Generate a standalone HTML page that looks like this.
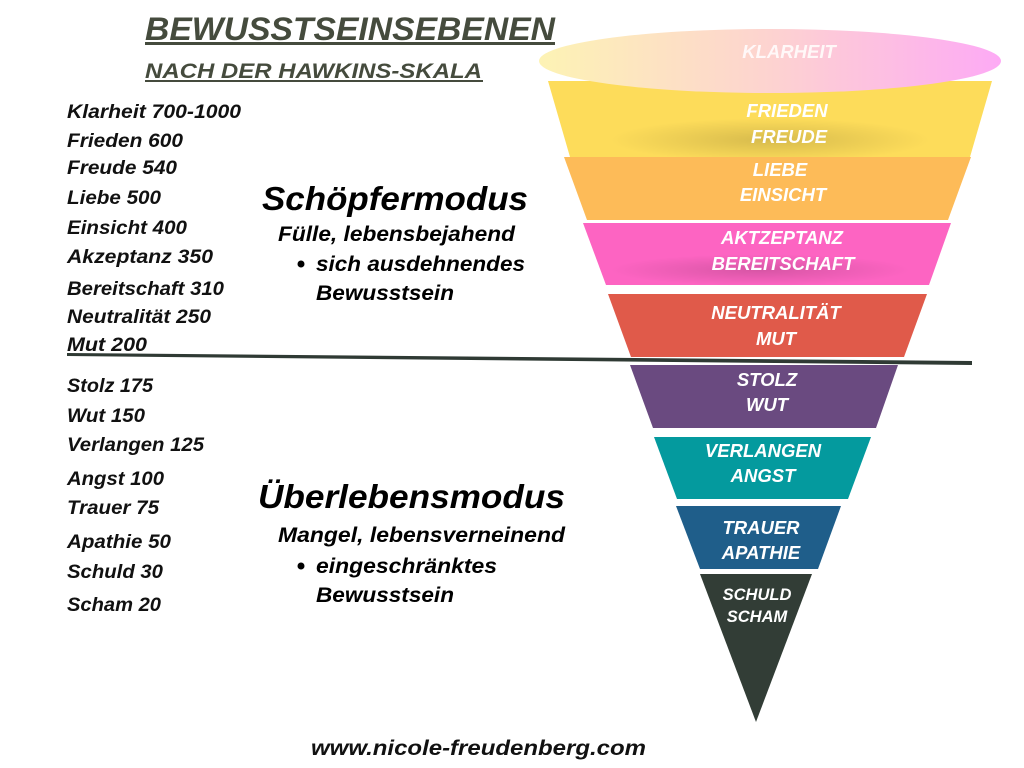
<!DOCTYPE html>
<html><head><meta charset="utf-8"><style>
html,body{margin:0;padding:0;background:#fff}
svg{display:block}
text{font-family:"Liberation Sans",sans-serif;font-weight:bold;font-style:italic}
.l{font-size:19.5px;fill:#111}
.w{font-size:18.5px;fill:#fff;text-anchor:middle}
</style></head><body>
<svg width="1024" height="768" viewBox="0 0 1024 768">
<defs>
<linearGradient id="g1" x1="0" x2="1"><stop offset="0" stop-color="#fdf3b4"/><stop offset="0.5" stop-color="#fdd3d0"/><stop offset="1" stop-color="#fdaaf5"/></linearGradient>
<radialGradient id="sh" cx="0.5" cy="0.5" r="0.5"><stop offset="0" stop-color="#000" stop-opacity="0.15"/><stop offset="1" stop-color="#000" stop-opacity="0"/></radialGradient>
</defs>
<text x="145" y="40" textLength="410" lengthAdjust="spacingAndGlyphs" style="font-size:32px;fill:#454b3d">BEWUSSTSEINSEBENEN</text>
<rect x="145" y="42" width="410" height="3" fill="#454b3d"/>
<text x="145" y="78" textLength="337" lengthAdjust="spacingAndGlyphs" style="font-size:21px;fill:#454b3d">NACH DER HAWKINS-SKALA</text>
<rect x="145" y="80" width="338" height="2" fill="#454b3d"/>

<polygon points="548,81 992,81 970,157 570,157" fill="#fddc5a"/>
<ellipse cx="770" cy="140" rx="160" ry="22" fill="url(#sh)"/>
<ellipse cx="770" cy="61" rx="231" ry="32" fill="url(#g1)"/>
<polygon points="564,157 971,157 948,220 587,220" fill="#fdbb58"/>
<polygon points="583,223 951,223 929,285 606,285" fill="#fd64c2"/>
<ellipse cx="760" cy="270" rx="150" ry="16" fill="url(#sh)"/>
<polygon points="608,294 927,294 904,357 631,357" fill="#e05a4a"/>
<polygon points="630,365 898,365 876,428 653,428" fill="#6a4a80"/>
<polygon points="654,437 871,437 848,499 677,499" fill="#049a9e"/>
<polygon points="676,506 841,506 818,569 700,569" fill="#1f5e8a"/>
<polygon points="700,574 812,574 756,722" fill="#323d36"/>
<polygon points="67,353 972,361 972,365 67,356" fill="#2f3a34"/>

<text class="w" x="789" y="58" style="fill:#fff8f8">KLARHEIT</text>
<text class="w" x="787" y="117">FRIEDEN</text>
<text class="w" x="789" y="143">FREUDE</text>
<text class="w" x="780" y="176">LIEBE</text>
<text class="w" x="783" y="201">EINSICHT</text>
<text class="w" x="782" y="244">AKTZEPTANZ</text>
<text class="w" x="783" y="270">BEREITSCHAFT</text>
<text class="w" x="776" y="319">NEUTRALITÄT</text>
<text class="w" x="776" y="345">MUT</text>
<text class="w" x="767" y="386">STOLZ</text>
<text class="w" x="767" y="411">WUT</text>
<text class="w" x="763" y="457">VERLANGEN</text>
<text class="w" x="763" y="482">ANGST</text>
<text class="w" x="761" y="534">TRAUER</text>
<text class="w" x="761" y="559">APATHIE</text>
<text class="w" x="757" y="600" style="font-size:16.5px">SCHULD</text>
<text class="w" x="757" y="622" style="font-size:16.5px">SCHAM</text>

<text class="l" x="67" y="118" textLength="174" lengthAdjust="spacingAndGlyphs">Klarheit 700-1000</text>
<text class="l" x="67" y="147" textLength="116" lengthAdjust="spacingAndGlyphs">Frieden 600</text>
<text class="l" x="67" y="174" textLength="110" lengthAdjust="spacingAndGlyphs">Freude 540</text>
<text class="l" x="67" y="204" textLength="94" lengthAdjust="spacingAndGlyphs">Liebe 500</text>
<text class="l" x="67" y="234" textLength="120" lengthAdjust="spacingAndGlyphs">Einsicht 400</text>
<text class="l" x="67" y="263" textLength="146" lengthAdjust="spacingAndGlyphs">Akzeptanz 350</text>
<text class="l" x="67" y="295" textLength="157" lengthAdjust="spacingAndGlyphs">Bereitschaft 310</text>
<text class="l" x="67" y="323" textLength="144" lengthAdjust="spacingAndGlyphs">Neutralität 250</text>
<text class="l" x="67" y="351" textLength="80" lengthAdjust="spacingAndGlyphs">Mut 200</text>
<text class="l" x="67" y="392" textLength="86" lengthAdjust="spacingAndGlyphs">Stolz 175</text>
<text class="l" x="67" y="422" textLength="78" lengthAdjust="spacingAndGlyphs">Wut 150</text>
<text class="l" x="67" y="451" textLength="137" lengthAdjust="spacingAndGlyphs">Verlangen 125</text>
<text class="l" x="67" y="485" textLength="97" lengthAdjust="spacingAndGlyphs">Angst 100</text>
<text class="l" x="67" y="514" textLength="92" lengthAdjust="spacingAndGlyphs">Trauer 75</text>
<text class="l" x="67" y="548" textLength="104" lengthAdjust="spacingAndGlyphs">Apathie 50</text>
<text class="l" x="67" y="578" textLength="96" lengthAdjust="spacingAndGlyphs">Schuld 30</text>
<text class="l" x="67" y="611" textLength="94" lengthAdjust="spacingAndGlyphs">Scham 20</text>

<text x="262" y="210" textLength="266" lengthAdjust="spacingAndGlyphs" style="font-size:33px;fill:#000">Schöpfermodus</text>
<text x="278" y="241" textLength="237" lengthAdjust="spacingAndGlyphs" style="font-size:21px;fill:#000">Fülle, lebensbejahend</text>
<circle cx="301" cy="264" r="3.5" fill="#000"/>
<text x="316" y="271" textLength="209" lengthAdjust="spacingAndGlyphs" style="font-size:21px;fill:#000">sich ausdehnendes</text>
<text x="316" y="300" textLength="138" lengthAdjust="spacingAndGlyphs" style="font-size:21px;fill:#000">Bewusstsein</text>

<text x="258" y="508" textLength="307" lengthAdjust="spacingAndGlyphs" style="font-size:33px;fill:#000">Überlebensmodus</text>
<text x="278" y="542" textLength="287" lengthAdjust="spacingAndGlyphs" style="font-size:21px;fill:#000">Mangel, lebensverneinend</text>
<circle cx="301" cy="566" r="3.5" fill="#000"/>
<text x="316" y="573" textLength="181" lengthAdjust="spacingAndGlyphs" style="font-size:21px;fill:#000">eingeschränktes</text>
<text x="316" y="602" textLength="138" lengthAdjust="spacingAndGlyphs" style="font-size:21px;fill:#000">Bewusstsein</text>

<text x="311" y="755" textLength="335" lengthAdjust="spacingAndGlyphs" style="font-size:21px;fill:#111">www.nicole-freudenberg.com</text>
</svg>
</body></html>
